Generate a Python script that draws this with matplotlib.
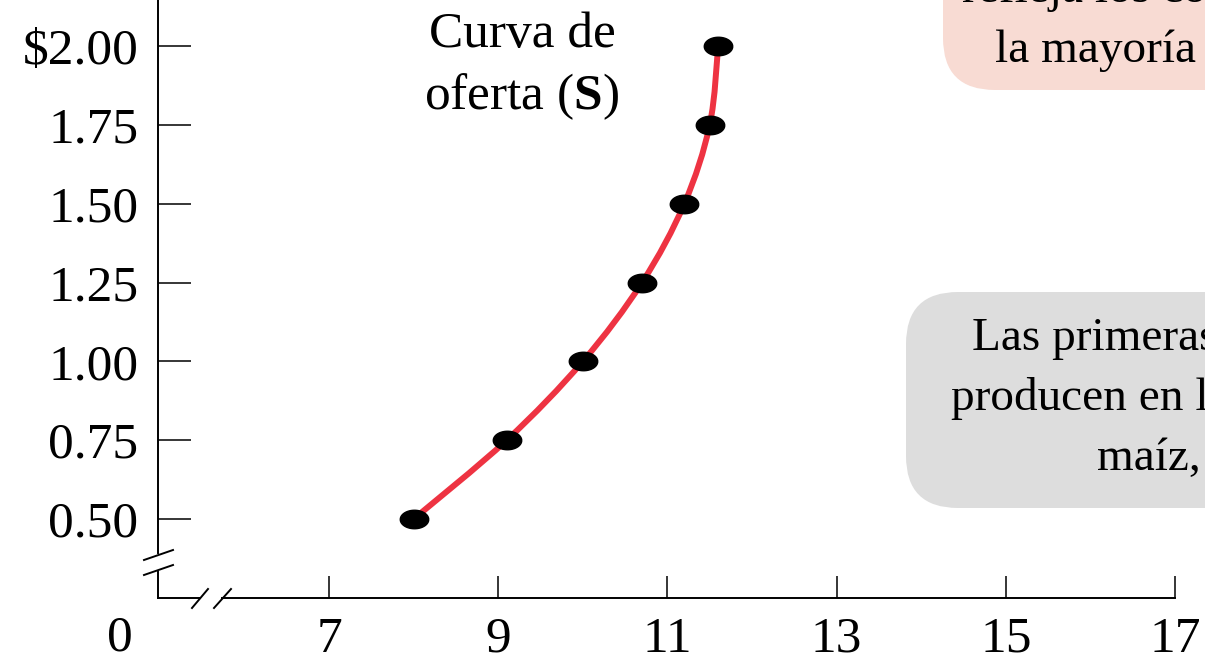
import numpy as np
import matplotlib.pyplot as plt
from matplotlib.path import Path
from matplotlib.patches import PathPatch, FancyBboxPatch
from matplotlib.markers import MarkerStyle

plt.rcParams['font.family'] = ['Liberation Serif', 'DejaVu Serif']
plt.rcParams['mathtext.fontset'] = 'custom'
plt.rcParams['mathtext.rm'] = 'Liberation Serif'
plt.rcParams['mathtext.bf'] = 'Liberation Serif:bold'

# datos
cantidad = [8.0, 9.1, 10.0, 10.7, 11.2, 11.5, 11.6]
precio = [0.50, 0.75, 1.00, 1.25, 1.50, 1.75, 2.00]
x_ticks = [7, 9, 11, 13, 15, 17]
y_ticks = [0.50, 0.75, 1.00, 1.25, 1.50, 1.75, 2.00]
y_labels = ['0.50', '0.75', '1.00', '1.25', '1.50', '1.75', '$2.00']

ROJO = '#EE3342'
FS = 37

fig = plt.figure(figsize=(12.05, 6.64), dpi=100)

# capa en pixeles para cajas, cortes de eje y textos
bg = fig.add_axes([0, 0, 1, 1])
bg.set_xlim(0, 1205)
bg.set_ylim(664, 0)
bg.axis('off')

ax = fig.add_axes([0, 0, 1, 1])
ax.patch.set_visible(False)
ax.set_xlim(3.111, 17.354)
ax.set_ylim(0.0402, 2.1459)

# ejes con cortes
x_origen = 3.111 + 158 * 0.01182
y_origen = 2.1459 - 598 * 0.0031712
ax.spines['top'].set_visible(False)
ax.spines['right'].set_visible(False)
ax.spines['left'].set_position(('data', x_origen))
ax.spines['bottom'].set_position(('data', y_origen))
ax.spines['left'].set_bounds(2.1459 - 553 * 0.0031712, 2.1459)
ax.spines['bottom'].set_bounds(3.111 + 222 * 0.01182, 17.0)
for s in ['left', 'bottom']:
    ax.spines[s].set_linewidth(1.4)

ax.set_xticks(x_ticks)
ax.set_xticklabels([str(v) for v in x_ticks], fontsize=FS)
ax.set_yticks(y_ticks)
ax.set_yticklabels(y_labels, fontsize=FS)
ax.tick_params(axis='x', direction='in', length=15.8, width=1.1, pad=13)
ax.tick_params(axis='y', direction='in', length=24, width=1.1, pad=14)

# tramos cortos junto al origen y marcas de corte
lw = 1.4
bg.plot([158, 158], [572, 598], color='black', lw=lw)
bg.plot([158, 200], [598, 598], color='black', lw=lw)
bg.plot([144, 173], [560, 550], color='black', lw=lw)
bg.plot([144, 173], [575, 565], color='black', lw=lw)
bg.plot([192, 208], [608, 589], color='black', lw=lw)
bg.plot([214, 231], [608, 589], color='black', lw=lw)
bg.text(120, 638, '0', fontsize=FS, ha='center', va='center')

# curva suave que pasa por los puntos (Bezier tipo Catmull-Rom)
pts = np.column_stack([cantidad, precio])
ext = np.vstack([pts[0], pts, pts[-1]])
verts = [tuple(pts[0])]
codes = [Path.MOVETO]
for i in range(len(pts) - 1):
    p0, p1, p2, p3 = ext[i], ext[i + 1], ext[i + 2], ext[i + 3]
    c1 = p1 + (p2 - p0) / 6.0
    c2 = p2 - (p3 - p1) / 6.0
    verts += [tuple(c1), tuple(c2), tuple(p2)]
    codes += [Path.CURVE4] * 3
ax.add_patch(PathPatch(Path(verts, codes), facecolor='none', edgecolor=ROJO,
                       lw=4.3, capstyle='round', zorder=3))

t = np.linspace(0, 2 * np.pi, 60)
elipse = MarkerStyle(Path(np.column_stack([np.cos(t), 0.65 * np.sin(t)])))
ax.plot(cantidad, precio, linestyle='none', marker=elipse, markersize=20.5,
        color='black', zorder=4)

bg.text(522, 35, 'Curva de', fontsize=FS, ha='center', va='center')
bg.text(522, 97, r'oferta ($\mathbf{S}$)', fontsize=FS, ha='center', va='center')

# cajas de comentario (cortadas por el borde, como en la figura original)
bg.add_patch(FancyBboxPatch((943, -80), 400, 170, boxstyle='round,pad=0,rounding_size=52',
                            facecolor='#F8DBD3', edgecolor='none', zorder=0))
bg.add_patch(FancyBboxPatch((906, 292), 400, 216, boxstyle='round,pad=0,rounding_size=52',
                            facecolor='#DDDDDD', edgecolor='none', zorder=0))

FB = 34
bg.text(962, 2, 'refleja los costos de', fontsize=FB, ha='left', va='baseline')
bg.text(995, 62, 'la mayoría de', fontsize=FB, ha='left', va='baseline')
bg.text(972, 350, 'Las primeras fanegas se', fontsize=FB, ha='left', va='baseline')
bg.text(951, 410, 'producen en las tierras', fontsize=FB, ha='left', va='baseline')
bg.text(1097, 470, 'maíz, con', fontsize=FB, ha='left', va='baseline')

fig.savefig('out.png', dpi=100)
